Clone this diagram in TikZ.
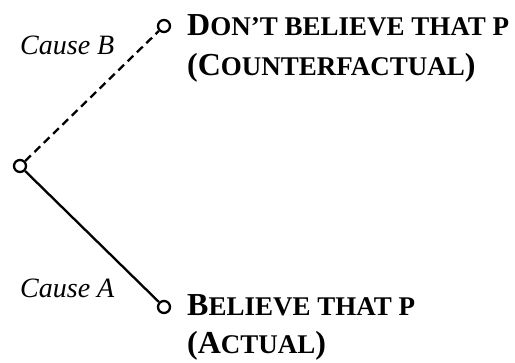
\documentclass[tikz,border=0pt]{standalone}
\usepackage{fontspec}
\setmainfont{Liberation Serif}
\usetikzlibrary{positioning}
\newcommand{\fakesc}[1]{{\fontsize{27}{30}\selectfont #1}}

\begin{document}
\begin{tikzpicture}[x=1pt, y=1pt,
  dot/.style={circle, draw, line width=2.3pt, inner sep=0pt, minimum size=12pt},
  branch/.style={line width=2.3pt},
  alt/.style={branch, dash pattern=on 8pt off 5pt},
  outcome/.style={anchor=base west, inner sep=0pt, font=\bfseries\fontsize{32}{32}\selectfont},
  cause/.style={anchor=base west, inner sep=0pt, font=\itshape\fontsize{28}{28}\selectfont}]
  \useasboundingbox (0,0) rectangle (515,363);
  % Knoten
  \node[dot] (root) at (20,197) {};
  \node[dot] (cf) at (164,337) {};
  \node[dot] (act) at (164,56) {};
  % Zweige
  \draw[alt] (root) -- (cf);
  \draw[branch] (root) -- (act);
  % Ausgaenge
  \node[outcome] (cf1) at (187,327) {D\fakesc{ON’T BELIEVE THAT P}};
  \node[outcome] (cf2) at ([yshift=-40pt]cf1.base west) {(C\fakesc{OUNTERFACTUAL})};
  \node[outcome] (act1) at (187,47) {B\fakesc{ELIEVE THAT P}};
  \node[outcome] (act2) at ([yshift=-38pt]act1.base west) {(A\fakesc{CTUAL})};
  % Ursachen
  \node[cause] (causeB) at (20,308) {Cause B};
  \node[cause] (causeA) at (20,65) {Cause A};
\end{tikzpicture}
\end{document}
